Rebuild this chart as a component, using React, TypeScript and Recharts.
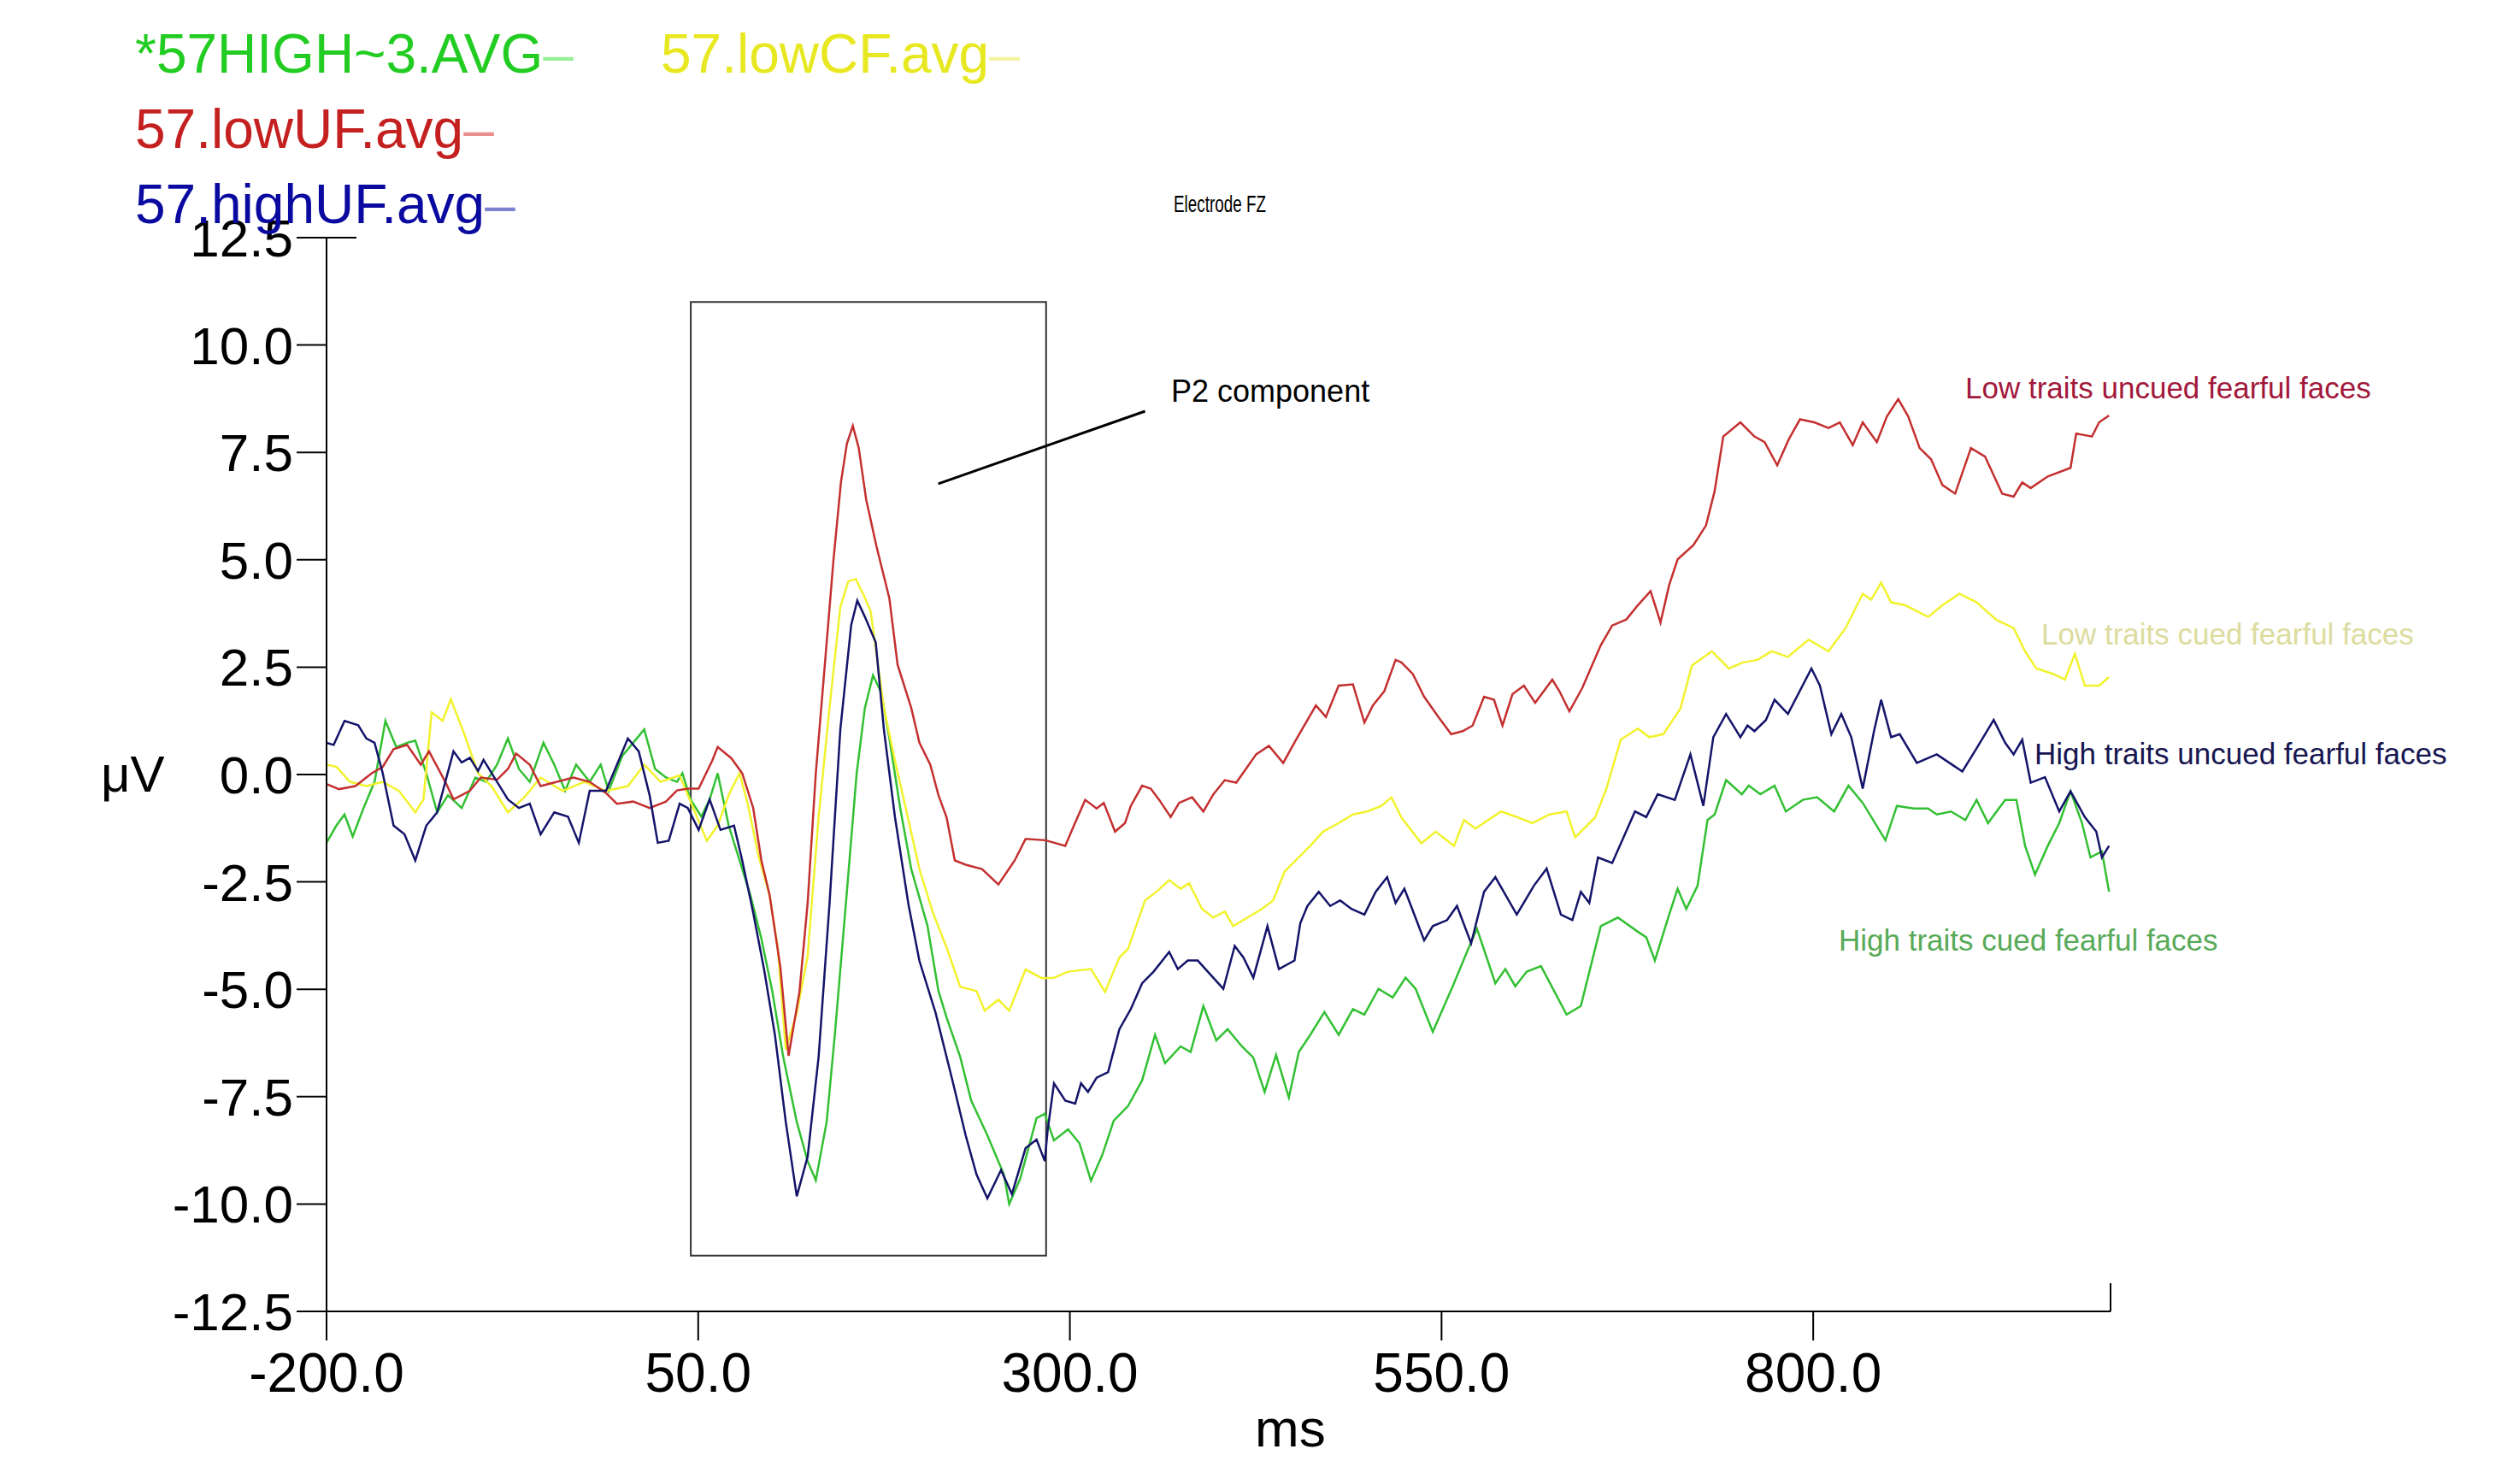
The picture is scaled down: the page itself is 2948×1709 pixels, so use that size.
import React from 'react';
import { LineChart, Line, XAxis, YAxis, ReferenceArea, ReferenceLine } from 'recharts';

const FONT = "'Liberation Sans', Arial, sans-serif";

const xTicks = [-200, 50, 300, 550, 800, 1000];
const yTicks = [-12.5, -10, -7.5, -5, -2.5, 0, 2.5, 5, 7.5, 10, 12.5];

// each point is [ms, µV]
const highCF: [number, number][] = [
  [-200, -1.59], [-193.4, -1.19], [-187.9, -0.93], [-182.4, -1.44], [-175.1, -0.78], [-167.7, -0.17],
  [-160.4, 1.25], [-153.1, 0.64], [-145.8, 0.74], [-140.3, 0.79], [-132.9, 0.03], [-125.6, -0.88],
  [-118.3, -0.48], [-109.1, -0.78], [-99.9, -0.07], [-92.6, -0.17], [-85.3, 0.23], [-78, 0.84],
  [-70.6, 0.13], [-63.3, -0.17], [-54.1, 0.74], [-46.8, 0.23], [-39.5, -0.38], [-32.1, 0.23],
  [-23, -0.17], [-15.6, 0.23], [-10.2, -0.38], [-1, 0.44], [6.3, 0.74], [13.7, 1.05], [21, 0.13],
  [28.3, -0.07], [35.7, -0.17], [39.4, 0.03], [44.8, -0.58], [52.1, -0.98], [57.7, -0.58], [63.1, 0.03],
  [70.5, -1.19], [77.8, -2.0], [85.1, -2.81], [92.5, -3.82], [99.8, -5.04], [107.1, -6.56], [116.3, -8.09],
  [123.6, -9.0], [129.1, -9.45], [136.4, -8.09], [141.9, -6.06], [149.3, -3.02], [156.6, 0.03],
  [162.1, 1.55], [167.6, 2.31], [173.1, 1.91], [178.6, 0.84], [185.9, -0.78], [193.3, -2.2],
  [204.2, -3.52], [211.6, -5.04], [217.1, -5.66], [226.2, -6.57], [233.6, -7.59], [244.5, -8.4],
  [255.6, -9.31], [259.2, -10.0], [266.6, -9.41], [277.6, -8.0], [283.1, -7.9], [289.3, -8.52],
  [298.8, -8.26], [306.5, -8.59], [314.2, -9.46], [321.8, -8.86], [329.5, -8.06], [339.1, -7.72],
  [348.6, -7.12], [357.3, -6.06], [364, -6.72], [374.5, -6.33], [381.2, -6.46], [389.8, -5.39],
  [398.5, -6.19], [406.1, -5.93], [415.7, -6.33], [423.4, -6.59], [431, -7.39], [438.7, -6.53],
  [447.3, -7.52], [454, -6.46], [461.7, -6.06], [471.2, -5.53], [480.8, -6.06], [490.4, -5.46],
  [498.1, -5.59], [507.6, -4.99], [517.2, -5.19], [525.8, -4.73], [532.6, -4.99], [544.1, -5.99],
  [557.5, -4.93], [567.1, -4.13], [573.8, -3.59], [586.2, -4.86], [592.9, -4.53], [599.6, -4.93],
  [607.3, -4.59], [616.9, -4.46], [634.1, -5.59], [643.7, -5.39], [657.1, -3.53], [668.6, -3.33],
  [682, -3.66], [687.7, -3.79], [693.5, -4.33], [703.1, -3.26], [708.8, -2.66], [714.6, -3.13],
  [722.2, -2.59], [728.9, -1.06], [733.7, -0.93], [741.4, -0.13], [752, -0.46], [756.7, -0.26],
  [764.4, -0.46], [774, -0.26], [781.6, -0.86], [793, -0.59], [802.6, -0.53], [814.1, -0.86],
  [823.7, -0.26], [833.3, -0.66], [848.6, -1.53], [856.3, -0.73], [867.7, -0.79], [877.3, -0.79],
  [883.1, -0.93], [892.7, -0.86], [902.3, -1.06], [909.9, -0.59], [917.6, -1.13], [929.1, -0.59],
  [936.7, -0.59], [942.5, -1.66], [949.2, -2.33], [957.8, -1.66], [965.5, -1.13], [973.1, -0.39],
  [980.8, -1.13], [986.5, -1.93], [994.2, -1.79], [999, -2.73],
];

const lowCF: [number, number][] = [
  [-200, 0.23], [-193.4, 0.18], [-184.2, -0.17], [-173.2, -0.27], [-162.2, -0.17], [-151.3, -0.38],
  [-140.3, -0.88], [-134.8, -0.58], [-129.3, 1.45], [-121.9, 1.25], [-116.4, 1.75], [-107.3, 0.94],
  [-98.1, 0.03], [-89, -0.27], [-78, -0.88], [-67, -0.53], [-56, -0.07], [-41.3, -0.38], [-26.6, -0.17],
  [-12, -0.38], [2.7, -0.27], [13.7, 0.23], [24.7, -0.17], [37.5, -0.02], [46.7, -0.78], [55.8, -1.54],
  [63.1, -1.19], [70.5, -0.48], [77.8, 0.03], [83.3, -0.68], [90.6, -1.9], [98, -2.81], [103.5, -4.03],
  [108.9, -6.4], [116.3, -5.55], [123.6, -4.23], [131, -0.98], [138.3, 1.55], [145.6, 3.9], [151, 4.5],
  [156, 4.55], [161, 4.2], [166, 3.8], [174.9, 1.55], [182.3, 0.33], [189.6, -0.78], [198.8, -2.2],
  [207.9, -3.22], [217.1, -4.03], [226.2, -4.94], [237.2, -5.04], [242.7, -5.5], [251.9, -5.24],
  [259.2, -5.5], [270.2, -4.54], [281.2, -4.74], [289.3, -4.73], [298.8, -4.59], [314.2, -4.53],
  [323.7, -5.06], [333.3, -4.26], [339.1, -4.06], [350.6, -2.93], [358.2, -2.73], [366.8, -2.46],
  [374.5, -2.66], [380.2, -2.53], [388.9, -3.13], [396.5, -3.33], [404.2, -3.19], [409.9, -3.53],
  [419.5, -3.33], [429.1, -3.13], [436.8, -2.93], [444.4, -2.26], [454, -1.93], [461.7, -1.66],
  [470.3, -1.33], [480.8, -1.13], [490.4, -0.93], [500, -0.86], [509.6, -0.73], [516.3, -0.53],
  [523, -1.0], [536.4, -1.6], [546, -1.33], [558.4, -1.66], [565.1, -1.06], [572.8, -1.26], [590, -0.86],
  [601.5, -1.0], [611.1, -1.13], [622.6, -0.93], [634.1, -0.86], [639.9, -1.46], [653.3, -1.0],
  [660.9, -0.33], [670.5, 0.81], [682, 1.07], [689.7, 0.87], [699.2, 0.94], [710.7, 1.54], [718.4, 2.54],
  [731.8, 2.87], [743.3, 2.47], [752.9, 2.61], [762.5, 2.67], [772, 2.87], [783, 2.74], [796.9, 3.14],
  [810.3, 2.87], [821.8, 3.41], [833.3, 4.21], [839, 4.07], [845.7, 4.47], [852.4, 4.01], [862, 3.94],
  [877.3, 3.67], [886.9, 3.94], [898.4, 4.21], [909.9, 4.01], [923.3, 3.6], [934.8, 3.41], [942.5, 2.87],
  [950.1, 2.47], [961.6, 2.34], [969.3, 2.21], [976, 2.81], [982.7, 2.07], [992.3, 2.07], [999, 2.27],
];

const lowUF: [number, number][] = [
  [-200, -0.22], [-191.6, -0.34], [-180.6, -0.27], [-169.6, 0.03], [-162.2, 0.18], [-154.9, 0.59],
  [-145.8, 0.69], [-136.6, 0.23], [-131.1, 0.54], [-120.1, -0.17], [-114.6, -0.58], [-103.6, -0.38],
  [-96.3, -0.07], [-85.3, -0.12], [-78, 0.13], [-72.5, 0.49], [-63.3, 0.23], [-56, -0.27], [-45, -0.17],
  [-34, -0.07], [-23, -0.17], [-12, -0.43], [-4.7, -0.68], [6.3, -0.63], [17.3, -0.78], [28.3, -0.63],
  [35.7, -0.37], [43, -0.33], [50.3, -0.33], [59.5, 0.33], [63.1, 0.64], [72.3, 0.38], [79.6, 0.03],
  [87, -0.78], [92.5, -2.0], [98, -2.8], [105.3, -4.5], [110.8, -6.55], [118.1, -5.06], [123.6, -3.0],
  [129.1, 0.03], [136.4, 3.07], [141, 5.0], [146, 6.8], [150, 7.7], [154, 8.12], [158, 7.6], [163, 6.4],
  [170, 5.3], [178.6, 4.1], [184.1, 2.56], [193.3, 1.55], [198.8, 0.74], [206.1, 0.23], [211.6, -0.48],
  [217.1, -1.0], [222.6, -2.0], [229.9, -2.1], [240.9, -2.2], [251.9, -2.56], [262.9, -2.0], [270.2, -1.5],
  [283.5, -1.53], [296.9, -1.66], [302.7, -1.19], [310.3, -0.59], [318, -0.79], [322.8, -0.66],
  [330.4, -1.33], [337.1, -1.13], [341, -0.73], [348.6, -0.26], [354.4, -0.33], [360.1, -0.59],
  [367.8, -0.99], [373.5, -0.66], [382.2, -0.53], [389.8, -0.86], [396.5, -0.46], [404.2, -0.13],
  [411.9, -0.19], [418.6, 0.14], [425.3, 0.47], [433.9, 0.67], [443.5, 0.27], [452.1, 0.81],
  [465.5, 1.61], [472.2, 1.34], [480.8, 2.07], [490.4, 2.1], [498.1, 1.21], [503.8, 1.61], [511.5, 1.94],
  [519.1, 2.67], [523, 2.61], [530.7, 2.34], [538.3, 1.81], [547.9, 1.34], [556.5, 0.94], [564.2, 1.01],
  [570.9, 1.14], [578.6, 1.81], [585.3, 1.74], [591, 1.14], [597.7, 1.87], [605.4, 2.07], [613, 1.67],
  [624.5, 2.21], [629.3, 1.94], [636, 1.47], [644.6, 2.01], [657.1, 3.01], [664.8, 3.47], [674.3, 3.61],
  [682, 3.94], [690.6, 4.27], [697.3, 3.54], [703.1, 4.41], [708.8, 5.01], [719.4, 5.34], [727.9, 5.8],
  [733.7, 6.6], [739.5, 7.87], [751, 8.2], [760.5, 7.87], [767.3, 7.74], [775.8, 7.2], [783.5, 7.8],
  [791.1, 8.27], [800.7, 8.2], [810.3, 8.07], [817.9, 8.2], [826.6, 7.67], [833.3, 8.2], [842.8, 7.74],
  [849.6, 8.34], [857.2, 8.74], [863.9, 8.34], [871.6, 7.6], [879.3, 7.34], [886.9, 6.74], [895.5, 6.54],
  [906.1, 7.6], [915.6, 7.4], [927.1, 6.54], [934.8, 6.47], [940.6, 6.8], [946.3, 6.67], [957.8, 6.94],
  [973.1, 7.14], [976.9, 7.94], [987.5, 7.87], [992.3, 8.2], [999, 8.36],
];

const highUF: [number, number][] = [
  [-200, 0.74], [-195.2, 0.69], [-187.9, 1.25], [-178.7, 1.15], [-173.2, 0.84], [-167.7, 0.74],
  [-162.2, 0.03], [-154.9, -1.19], [-147.6, -1.39], [-140.3, -2.0], [-132.9, -1.19], [-125.6, -0.88],
  [-120.1, -0.17], [-114.6, 0.54], [-109.1, 0.28], [-103.6, 0.39], [-98.1, 0.08], [-94.4, 0.34],
  [-85.3, -0.17], [-78, -0.58], [-70.6, -0.78], [-63.3, -0.68], [-56, -1.39], [-46.8, -0.88],
  [-37.6, -0.98], [-30.3, -1.59], [-23, -0.38], [-12, -0.38], [2.7, 0.84], [10, 0.54], [17.3, -0.48],
  [22.8, -1.59], [30.2, -1.54], [37.5, -0.68], [43, -0.78], [50.3, -1.29], [57.7, -0.58], [65, -1.29],
  [74.1, -1.19], [79.6, -2.0], [87, -3.22], [94.3, -4.54], [101.6, -6.06], [108.9, -8.09], [116.3, -9.82],
  [123.6, -8.9], [131, -6.57], [138.3, -3.02], [145.6, 1.05], [152.9, 3.48], [157, 4.05], [162, 3.68],
  [169.4, 3.08], [174.9, 1.05], [182.3, -0.98], [191.4, -3.02], [198.8, -4.34], [209.7, -5.55],
  [220.7, -7.08], [229.9, -8.4], [237.2, -9.31], [244.5, -9.87], [253.7, -9.21], [261, -9.77],
  [270.2, -8.7], [277.6, -8.5], [283.1, -9.0], [285, -8.3], [289.3, -7.19], [296.9, -7.59], [303.6, -7.66],
  [307.5, -7.19], [312.2, -7.39], [318, -7.06], [325.7, -6.93], [333.3, -5.93], [341, -5.46],
  [348.6, -4.86], [356.3, -4.59], [366.8, -4.13], [372.6, -4.53], [379.3, -4.33], [386, -4.33],
  [394.6, -4.66], [403.2, -4.99], [410.9, -3.99], [416.7, -4.26], [423.4, -4.73], [432.9, -3.53],
  [440.6, -4.53], [451.1, -4.33], [455, -3.46], [459.8, -3.06], [467.4, -2.73], [475.1, -3.06],
  [481.8, -2.93], [489.4, -3.13], [498.1, -3.26], [505.7, -2.73], [513.4, -2.39], [519.1, -2.99],
  [525, -2.66], [528.7, -2.99], [538.3, -3.86], [544.1, -3.53], [553.7, -3.39], [560.4, -3.06],
  [569.9, -3.93], [578.6, -2.73], [586.2, -2.39], [600.6, -3.26], [612.1, -2.59], [620.7, -2.19],
  [630.3, -3.26], [638, -3.39], [643.7, -2.73], [649.4, -2.99], [655.2, -1.93], [664.8, -2.06],
  [680.1, -0.86], [687.7, -0.99], [695.4, -0.46], [706.9, -0.59], [717.4, 0.47], [726.1, -0.73],
  [732.8, 0.87], [741.4, 1.41], [751, 0.87], [755.8, 1.14], [760.5, 1.01], [768.2, 1.27], [774, 1.74],
  [783, 1.41], [798.8, 2.47], [804.5, 2.07], [812.2, 0.94], [818.9, 1.41], [825.6, 0.87], [833.3, -0.33],
  [840.9, 1.01], [845.7, 1.74], [852.4, 0.87], [858.2, 0.94], [869.7, 0.27], [883.1, 0.47], [900.3, 0.07],
  [909.9, 0.61], [921.4, 1.27], [929.1, 0.74], [934.8, 0.47], [940.6, 0.81], [946.3, -0.19],
  [955.9, -0.06], [965.5, -0.86], [973.1, -0.39], [982.7, -0.99], [990.4, -1.33], [994.2, -1.93],
  [999, -1.66],
];

const series = [
  { key: 'highCF', points: highCF, color: '#33c033', legend: '*57HIGH~3.AVG', legendColor: '#22cc22', dashColor: '#99ee99', label: 'High traits cued fearful faces', labelColor: '#58aa58' },
  { key: 'lowCF', points: lowCF, color: '#f2f22e', legend: '57.lowCF.avg', legendColor: '#e8e822', dashColor: '#f4f4a0', label: 'Low traits cued fearful faces', labelColor: '#dcdc9e' },
  { key: 'lowUF', points: lowUF, color: '#c43030', legend: '57.lowUF.avg', legendColor: '#c42020', dashColor: '#e89090', label: 'Low traits uncued fearful faces', labelColor: '#a2183c' },
  { key: 'highUF', points: highUF, color: '#14146a', legend: '57.highUF.avg', legendColor: '#0a0aa0', dashColor: '#8080d0', label: 'High traits uncued fearful faces', labelColor: '#161650' },
];

const toRows = (pts: [number, number][]) => pts.map(([ms, uv]) => ({ ms, uv }));

const XTick = (props: any) => {
  const { x, y, payload } = props;
  if (payload.value === 1000) {
    return <line x1={x} x2={x} y1={y} y2={y - 33} stroke="#000" strokeWidth={2} />;
  }
  return (
    <g>
      <line x1={x} x2={x} y1={y} y2={y + 34} stroke="#000" strokeWidth={2} />
      <text x={x} y={y + 94} textAnchor="middle" fontSize={64} fontFamily={FONT} fill="#000">
        {payload.value.toFixed(1)}
      </text>
    </g>
  );
};

const YTick = (props: any) => {
  const { x, y, payload } = props;
  const right = payload.value === 12.5 ? x + 35 : x;
  return (
    <g>
      <line x1={x - 35} x2={right} y1={y} y2={y} stroke="#000" strokeWidth={2} />
      <text x={x - 39} y={y + 22} textAnchor="end" fontSize={62} fontFamily={FONT} fill="#000">
        {payload.value.toFixed(1)}
      </text>
    </g>
  );
};

// positions of the legend rows and the curve labels, in page pixels
const legendPos = [
  { x: 158, y: 85 },
  { x: 773, y: 85 },
  { x: 158, y: 173 },
  { x: 158, y: 261 },
];
const labelPos = [
  { x: 2151, y: 1112 },
  { x: 2388, y: 754 },
  { x: 2299, y: 466 },
  { x: 2380, y: 894 },
];

export default function App() {
  return (
    <div style={{ position: 'absolute', left: 0, top: 0, width: 2948, height: 1709, background: '#fff' }}>
      <LineChart width={2948} height={1709} margin={{ top: 278, right: 479, bottom: 75, left: 82 }}>
        <XAxis
          dataKey="ms"
          type="number"
          domain={[-200, 1000]}
          ticks={xTicks}
          allowDataOverflow
          height={100}
          tickSize={0}
          tickMargin={0}
          tickLine={false}
          tick={<XTick />}
          axisLine={{ stroke: '#000', strokeWidth: 2 }}
        />
        <YAxis
          type="number"
          domain={[-12.5, 12.5]}
          ticks={yTicks}
          allowDataOverflow
          width={300}
          tickSize={0}
          tickMargin={0}
          tickLine={false}
          tick={<YTick />}
          axisLine={{ stroke: '#000', strokeWidth: 2 }}
        />
        <ReferenceArea x1={45} x2={284} y1={-11.2} y2={11} fill="none" stroke="#333" strokeWidth={2} />
        <ReferenceLine
          segment={[{ x: 211.5, y: 6.77 }, { x: 350.6, y: 8.46 }]}
          stroke="#000"
          strokeWidth={3}
        />
        {series.map((s) => (
          <Line
            key={s.key}
            data={toRows(s.points)}
            dataKey="uv"
            type="linear"
            stroke={s.color}
            strokeWidth={2.5}
            dot={false}
            activeDot={false}
            isAnimationActive={false}
          />
        ))}
      </LineChart>
      <svg
        width={2948}
        height={1709}
        style={{ position: 'absolute', left: 0, top: 0, pointerEvents: 'none' }}
        fontFamily={FONT}
      >
        {series.map((s, i) => (
          <text key={s.key} x={legendPos[i].x} y={legendPos[i].y} fontSize={64} fill={s.legendColor}>
            {s.legend}
            <tspan fill={s.dashColor}>–</tspan>
          </text>
        ))}
        {series.map((s, i) => (
          <text key={s.key + '-label'} x={labelPos[i].x} y={labelPos[i].y} fontSize={35} fill={s.labelColor}>
            {s.label}
          </text>
        ))}
        <text x={1373} y={248} fontSize={27} textLength={108} lengthAdjust="spacingAndGlyphs" fill="#000">
          Electrode FZ
        </text>
        <text x={1370} y={470} fontSize={36} fill="#000">P2 component</text>
        <text x={118} y={926} fontSize={60} fill="#000">μV</text>
        <text x={1468} y={1692} fontSize={62} fill="#000">ms</text>
      </svg>
    </div>
  );
}
